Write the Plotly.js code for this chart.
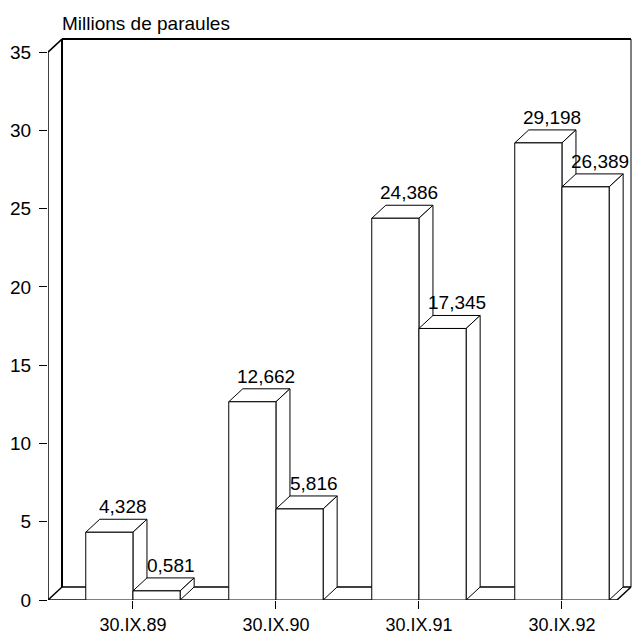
<!DOCTYPE html>
<html>
<head>
<meta charset="utf-8">
<script src="https://cdn.plot.ly/plotly-3.0.1.min.js"></script>
<style>html,body{margin:0;padding:0;background:#fff;}#chart{width:632px;height:635px;}</style>
</head>
<body>
<div id="chart"></div>
<script>
// ---- data ----
const categories = ['30.IX.89', '30.IX.90', '30.IX.91', '30.IX.92'];
const seriesA = [4.328, 12.662, 24.386, 29.198];
const seriesB = [0.581, 5.816, 17.345, 26.389];
const yTickVals = [0, 5, 10, 15, 20, 25, 30, 35];
const yTitle = 'Millions de paraules';

// ---- geometry / style ----
const W = 0.33;        // bar width in category units
const DX = 0.098;      // depth offset x (category units)
const DY = 0.83;       // depth offset y (value units)
const X0 = -0.594;     // left edge of the front floor
const XF = 3.385;      // right edge of the front floor
const YTOP = 35;
const FAMILY = 'Liberation Sans, Arial, sans-serif';
const FONT = {family: FAMILY, size: 19, color: '#000'};
const XFONT = {family: FAMILY, size: 18, color: '#000'};
const xIdx = categories.map((c, i) => i);
const fmt = v => v.toFixed(3).replace('.', ',');

const traces = [
  {type: 'bar', x: xIdx, y: seriesA, width: W, offset: -W,
   marker: {color: '#fff', line: {color: '#000', width: 1}}, hoverinfo: 'skip', showlegend: false},
  {type: 'bar', x: xIdx, y: seriesB, width: W, offset: 0,
   marker: {color: '#fff', line: {color: '#000', width: 1}}, hoverinfo: 'skip', showlegend: false}
];

const shapes = [];
const line = (x0, y0, x1, y1, w) => shapes.push({type: 'line', xref: 'x', yref: 'y', x0, y0, x1, y1,
  layer: 'below', line: {color: '#000', width: w}});
// back wall and floor
line(X0 + DX, YTOP + DY, XF + DX, YTOP + DY, 2);
line(X0 + DX, DY, X0 + DX, YTOP + DY, 2);
line(XF + DX, DY, XF + DX, YTOP + DY, 1);
line(X0, 0, X0, YTOP, 1.5);
line(X0, YTOP, X0 + DX, YTOP + DY, 1.5);
line(X0, 0, XF, 0, 1.5);
line(X0 + DX, DY, XF + DX, DY, 1.5);
line(X0, 0, X0 + DX, DY, 1.5);
line(XF, 0, XF + DX, DY, 1.5);

const faces = (xl, xr, h) => {
  shapes.push({type: 'path', xref: 'x', yref: 'y', layer: 'below', fillcolor: '#fff',
    line: {color: '#000', width: 1},
    path: `M${xl},${h} L${xr},${h} L${xr + DX},${h + DY} L${xl + DX},${h + DY} Z`});
  shapes.push({type: 'path', xref: 'x', yref: 'y', layer: 'below', fillcolor: '#fff',
    line: {color: '#000', width: 1},
    path: `M${xr},0 L${xr + DX},${DY} L${xr + DX},${h + DY} L${xr},${h} Z`});
};
const annotations = [];
xIdx.forEach(i => {
  faces(i - W, i, seriesA[i]);
  faces(i, i + W, seriesB[i]);
  annotations.push({x: i - W / 2 + DX, y: seriesA[i] + DY, text: fmt(seriesA[i]), showarrow: false,
    xanchor: 'center', yanchor: 'bottom', yshift: 0, font: FONT});
  annotations.push({x: i + W / 2 + DX, y: seriesB[i] + DY, text: fmt(seriesB[i]), showarrow: false,
    xanchor: 'center', yanchor: 'bottom', yshift: 0, font: FONT});
});

const layout = {
  width: 632, height: 635, autosize: false,
  margin: {l: 48, r: 0, t: 38, b: 35, pad: 0},
  paper_bgcolor: '#fff', plot_bgcolor: '#fff',
  font: FONT,
  title: {text: yTitle, font: FONT, xref: 'container', x: 62 / 632, xanchor: 'left',
          yref: 'container', y: 1 - 23 / 635, yanchor: 'middle'},
  barmode: 'overlay',
  xaxis: {range: [X0, X0 + 584 / 143], tickvals: xIdx, ticktext: categories,
          showgrid: false, zeroline: false, showline: false,
          ticks: 'outside', ticklen: 8, tickcolor: '#000', tickwidth: 1, tickfont: XFONT,
          ticklabelstandoff: 0, fixedrange: true},
  yaxis: {range: [0, 35.9], tickvals: yTickVals, showgrid: false, zeroline: false, showline: false,
          ticks: 'outside', ticklen: 8, tickcolor: '#000', tickwidth: 1, tickfont: FONT,
          ticklabelstandoff: 4, fixedrange: true},
  shapes, annotations
};

Plotly.newPlot('chart', traces, layout, {staticPlot: true, displayModeBar: false});
</script>
</body>
</html>
